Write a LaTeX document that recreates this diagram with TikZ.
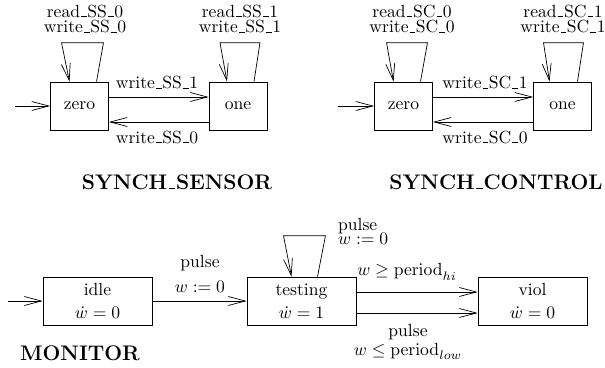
\documentclass[tikz,border=0pt]{standalone}
\usepackage{amsmath,amssymb}
\usepackage{tikz}
\usetikzlibrary{arrows.meta}
\newcommand{\us}{\kern.06em\vbox{\hrule width.32em height.7pt}\kern.04em}

\begin{document}
\begin{tikzpicture}[x=0.02cm, y=-0.02cm,
    state/.style={draw, minimum width=1.16cm, minimum height=0.96cm, inner sep=1pt},
    wstate/.style={state, minimum width=2.18cm, align=center},
    trans/.style={-{Straight Barb[length=3.4mm, width=1.8mm]}},
    lbl/.style={inner sep=1pt, align=center},
    title/.style={font=\large\bfseries}]
  \useasboundingbox (0,0) rectangle (605,368);
  % SYNCH_SENSOR states
  \node[state] (ssz) at (79.5,106) {zero};
  \node[state] (sso) at (238,106) {one};
  \coordinate (ssin) at (15,106);
  \draw[trans] (ssin) -- (ssz);
  % SYNCH_SENSOR transitions
  \draw[trans] ([yshift=0.18cm]ssz.east) -- ([yshift=0.18cm]sso.west);
  \draw[trans] ([yshift=-0.32cm]sso.west) -- ([yshift=-0.32cm]ssz.east);
  \draw[trans] ([xshift=0.34cm]ssz.north) -- ++(7,-39) -- ++(-42,0) -- ([xshift=-0.2cm]ssz.north);
  \draw[trans] ([xshift=0.32cm]sso.north) -- ++(6,-39) -- ++(-40,0) -- ([xshift=-0.22cm]sso.north);
  \node[lbl] (ssl1) at (157,83) {write\us SS\us 1};
  \node[lbl] (ssl0) at (157,137) {write\us SS\us 0};
  \node[lbl] (ssr0) at (85,19) {read\us SS\us 0\\[-3pt] write\us SS\us 0};
  \node[lbl] (ssr1) at (240,19) {read\us SS\us 1\\[-3pt] write\us SS\us 1};
  \node[title] (sst) at (177,182) {SYNCH\us SENSOR};
  % SYNCH_CONTROL states
  \node[state] (scz) at (403.5,106) {zero};
  \node[state] (sco) at (562.5,106) {one};
  \coordinate (scin) at (338,106);
  \draw[trans] (scin) -- (scz);
  % SYNCH_CONTROL transitions
  \draw[trans] ([yshift=0.18cm]scz.east) -- ([yshift=0.18cm]sco.west);
  \draw[trans] ([yshift=-0.32cm]sco.west) -- ([yshift=-0.32cm]scz.east);
  \draw[trans] ([xshift=0.34cm]scz.north) -- ++(7,-39) -- ++(-41,0) -- ([xshift=-0.2cm]scz.north);
  \draw[trans] ([xshift=0.3cm]sco.north) -- ++(6,-39) -- ++(-40,0) -- ([xshift=-0.26cm]sco.north);
  \node[lbl] (scl1) at (485,83) {write\us SC\us 1};
  \node[lbl] (scl0) at (485,137) {write\us SC\us 0};
  \node[lbl] (scr0) at (412,19) {read\us SC\us 0\\[-3pt] write\us SC\us 0};
  \node[lbl] (scr1) at (563,19) {read\us SC\us 1\\[-3pt] write\us SC\us 1};
  \node[title] (sct) at (496,182) {SYNCH\us CONTROL};
  % MONITOR states
  \node[wstate] (idle) at (97.5,301) {idle\\[1pt] $\dot w = 0$};
  \node[wstate] (testing) at (301.5,301) {testing\\[1pt] $\dot w = 1$};
  \node[wstate] (viol) at (532.5,301) {viol\\[1pt] $\dot w = 0$};
  \coordinate (monin) at (8,301);
  \draw[trans] (monin) -- (idle);
  % MONITOR transitions
  \draw[trans] (idle) -- (testing);
  \draw[trans] ([yshift=0.18cm]testing.east) -- ([yshift=0.18cm]viol.west);
  \draw[trans] ([yshift=-0.24cm]testing.east) -- ([yshift=-0.24cm]viol.west);
  \draw[trans] ([xshift=0.32cm]testing.north) -- ++(8,-41) -- ++(-42,0) -- ([xshift=-0.2cm]testing.north);
  \node[lbl] (pl1) at (200,274) {pulse\\[2pt] $w := 0$};
  \node[lbl, anchor=west, align=left] (pl2) at (336,231) {pulse\\[-4pt] $w := 0$};
  \node[lbl] (hi) at (407,272) {$w \geq \mathrm{period}_{hi}$};
  \node[lbl] (low) at (408,342) {pulse\\[-1pt] $w \leq \mathrm{period}_{low}$};
  \node[title] (mont) at (80,353) {MONITOR};
\end{tikzpicture}
\end{document}
